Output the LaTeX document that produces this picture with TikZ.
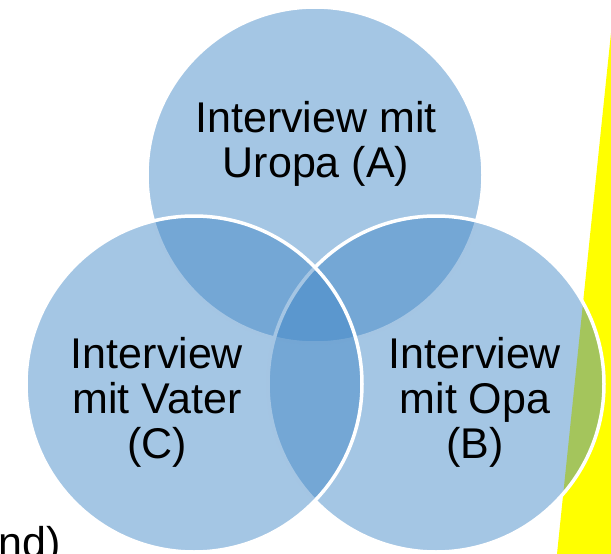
\documentclass[tikz,border=0pt]{standalone}
\usepackage{fontspec}
\setmainfont{Liberation Sans}
\usetikzlibrary{positioning}
\definecolor{vennblue}{RGB}{62,133,197}
\definecolor{marker}{RGB}{255,255,0}

\begin{document}
\begin{tikzpicture}[x=1pt, y=-1pt,
    venn/.style={fill=vennblue, fill opacity=0.47, draw=white, line width=3.5pt},
    lbl/.style={align=center, inner sep=0pt, font=\fontsize{43}{45}\selectfont}]

\def\R{168}

\clip (0,0) rectangle (611,554);

% yellow strip, behind the circles
\fill[marker] (611,33) -- (557,554) -- (620,554) -- (620,33) -- cycle;

\foreach \cx/\cy in {315/175, 436/384, 194/384} {
    \draw[venn] (\cx,\cy) circle (\R);
}

\node[lbl, anchor=base] (uropa) at (316,177) {Interview mit\\Uropa (A)};
\node[lbl, anchor=base] (opa) at (475,458) {Interview\\mit Opa\\(B)};
\node[lbl, anchor=base] (vater) at (157,458) {Interview\\mit Vater\\(C)};

\node[lbl, anchor=base east] (rest) at (61,557) {nd)};

\end{tikzpicture}
\end{document}
